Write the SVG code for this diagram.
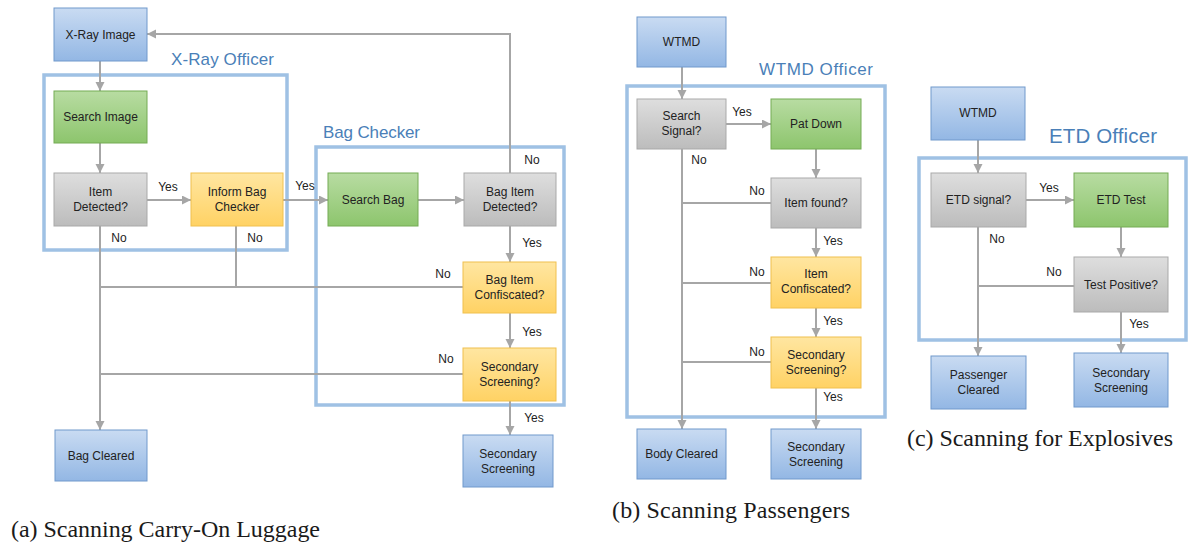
<svg xmlns="http://www.w3.org/2000/svg" width="1192" height="544" viewBox="0 0 1192 544">
  <defs>
    <linearGradient id="gBlue" x1="0" y1="0" x2="0" y2="1">
      <stop offset="0" stop-color="#c9dbf2"/>
      <stop offset="1" stop-color="#93b7e4"/>
    </linearGradient>
    <linearGradient id="gGreen" x1="0" y1="0" x2="0" y2="1">
      <stop offset="0" stop-color="#b8dca2"/>
      <stop offset="1" stop-color="#8dc56d"/>
    </linearGradient>
    <linearGradient id="gGray" x1="0" y1="0" x2="0" y2="1">
      <stop offset="0" stop-color="#dedede"/>
      <stop offset="1" stop-color="#bcbcbc"/>
    </linearGradient>
    <linearGradient id="gYellow" x1="0" y1="0" x2="0" y2="1">
      <stop offset="0" stop-color="#ffe6a1"/>
      <stop offset="1" stop-color="#ffd264"/>
    </linearGradient>
    <marker id="arrow" markerUnits="userSpaceOnUse" markerWidth="10" markerHeight="10" refX="9" refY="4.5" orient="auto">
      <path d="M0,0 L9,4.5 L0,9 z" fill="#a6a6a6"/>
    </marker>
  </defs>
  <style>
    .blue { fill: url(#gBlue); stroke: #7099cc; stroke-width: 1; }
    .green { fill: url(#gGreen); stroke: #74ab54; stroke-width: 1; }
    .gray { fill: url(#gGray); stroke: #a9a9a9; stroke-width: 1; }
    .yellow { fill: url(#gYellow); stroke: #f0c04e; stroke-width: 1; }
    .frame { fill: none; stroke: #9fc1e4; stroke-width: 3.5; }
    .title { font-family: "Liberation Sans", Arial, sans-serif; font-size: 17px; fill: #4a7fb8; }
    .lbl { font-family: "Liberation Sans", Arial, sans-serif; font-size: 12px; fill: #222222; text-anchor: middle; }
    .edge { font-family: "Liberation Sans", Arial, sans-serif; font-size: 12px; fill: #222222; text-anchor: middle; }
    .wire { fill: none; stroke: #a6a6a6; stroke-width: 2; }
    .arr { marker-end: url(#arrow); }
    .cap { font-family: "Liberation Serif", "Times New Roman", serif; font-size: 24px; fill: #1a1a1a; }
  </style>

  <rect width="1192" height="544" fill="#ffffff"/>

  <!-- role frames -->
  <g id="frames">
    <rect class="frame" x="44" y="75" width="243" height="175"/>
    <text class="title" x="171" y="65" textLength="103">X-Ray Officer</text>
    <rect class="frame" x="316" y="147" width="248" height="258"/>
    <text class="title" x="323" y="138" textLength="97">Bag Checker</text>
    <rect class="frame" x="627" y="86" width="258" height="331"/>
    <text class="title" x="759" y="75" textLength="114">WTMD Officer</text>
    <rect class="frame" x="919" y="158" width="267" height="182"/>
    <text class="title" x="1049" y="143" style="font-size:20.5px" textLength="108">ETD Officer</text>
  </g>

  <!-- connectors -->
  <g id="connectors">
    <!-- (a) carry-on luggage -->
    <path class="wire arr" d="M100,61 V91"/>
    <path class="wire arr" d="M100,143 V173"/>
    <path class="wire arr" d="M147,200 H191"/>
    <path class="wire arr" d="M283,200 H328"/>
    <path class="wire arr" d="M418,200 H464"/>
    <path class="wire arr" d="M510,173 V34 H147"/>
    <path class="wire arr" d="M510,226 V262"/>
    <path class="wire arr" d="M510,313 V348"/>
    <path class="wire arr" d="M510,401 V435"/>
    <path class="wire" d="M463,287 H100"/>
    <path class="wire" d="M463,374 H100"/>
    <path class="wire" d="M236,226 V287"/>
    <path class="wire arr" d="M100,226 V430"/>
    <text class="edge" x="168" y="191">Yes</text>
    <text class="edge" x="305" y="190">Yes</text>
    <text class="edge" x="532" y="164">No</text>
    <text class="edge" x="532" y="247">Yes</text>
    <text class="edge" x="532" y="336">Yes</text>
    <text class="edge" x="534" y="422">Yes</text>
    <text class="edge" x="443" y="278">No</text>
    <text class="edge" x="446" y="363">No</text>
    <text class="edge" x="119" y="242">No</text>
    <text class="edge" x="255" y="242">No</text>

    <!-- (b) passengers -->
    <path class="wire arr" d="M682,67 V99"/>
    <path class="wire arr" d="M726,124 H771"/>
    <path class="wire arr" d="M816,149 V178"/>
    <path class="wire arr" d="M816,228 V257"/>
    <path class="wire arr" d="M816,308 V337"/>
    <path class="wire arr" d="M816,388 V429"/>
    <path class="wire" d="M771,203 H682"/>
    <path class="wire" d="M771,283 H682"/>
    <path class="wire" d="M771,362 H682"/>
    <path class="wire arr" d="M682,149 V429"/>
    <text class="edge" x="742" y="116">Yes</text>
    <text class="edge" x="699" y="164">No</text>
    <text class="edge" x="757" y="195">No</text>
    <text class="edge" x="833" y="245">Yes</text>
    <text class="edge" x="757" y="276">No</text>
    <text class="edge" x="833" y="325">Yes</text>
    <text class="edge" x="757" y="356">No</text>
    <text class="edge" x="833" y="401">Yes</text>

    <!-- (c) explosives -->
    <path class="wire arr" d="M978,140 V173"/>
    <path class="wire arr" d="M1026,200 H1074"/>
    <path class="wire arr" d="M1121,227 V257"/>
    <path class="wire" d="M1074,286 H978"/>
    <path class="wire arr" d="M1121,312 V353"/>
    <path class="wire arr" d="M978,227 V356"/>
    <text class="edge" x="1049" y="192">Yes</text>
    <text class="edge" x="997" y="243">No</text>
    <text class="edge" x="1054" y="276">No</text>
    <text class="edge" x="1139" y="328">Yes</text>
  </g>

  <!-- (a) nodes -->
  <g id="xray-image">
    <rect class="blue" x="54" y="8" width="93" height="53"/>
    <text class="lbl" x="100.5" y="38.5">X-Ray Image</text>
  </g>
  <g id="search-image">
    <rect class="green" x="54" y="91" width="93" height="52"/>
    <text class="lbl" x="100.5" y="121">Search Image</text>
  </g>
  <g id="item-detected">
    <rect class="gray" x="54" y="173" width="93" height="53"/>
    <text class="lbl" x="100.5" y="196">Item</text>
    <text class="lbl" x="100.5" y="211">Detected?</text>
  </g>
  <g id="inform-bag-checker">
    <rect class="yellow" x="191" y="173" width="92" height="53"/>
    <text class="lbl" x="237" y="196">Inform Bag</text>
    <text class="lbl" x="237" y="211">Checker</text>
  </g>
  <g id="search-bag">
    <rect class="green" x="328" y="173" width="90" height="53"/>
    <text class="lbl" x="373" y="203.5">Search Bag</text>
  </g>
  <g id="bag-item-detected">
    <rect class="gray" x="464" y="173" width="92" height="53"/>
    <text class="lbl" x="510" y="196">Bag Item</text>
    <text class="lbl" x="510" y="211">Detected?</text>
  </g>
  <g id="bag-item-confiscated">
    <rect class="yellow" x="463" y="262" width="93" height="51"/>
    <text class="lbl" x="509.5" y="284">Bag Item</text>
    <text class="lbl" x="509.5" y="299">Confiscated?</text>
  </g>
  <g id="bag-secondary-q">
    <rect class="yellow" x="463" y="348" width="93" height="53"/>
    <text class="lbl" x="509.5" y="371">Secondary</text>
    <text class="lbl" x="509.5" y="386">Screening?</text>
  </g>
  <g id="bag-secondary">
    <rect class="blue" x="463" y="435" width="90" height="52"/>
    <text class="lbl" x="508" y="458">Secondary</text>
    <text class="lbl" x="508" y="473">Screening</text>
  </g>
  <g id="bag-cleared">
    <rect class="blue" x="55" y="430" width="92" height="51"/>
    <text class="lbl" x="101" y="459.5">Bag Cleared</text>
  </g>

  <!-- (b) nodes -->
  <g id="wtmd-b">
    <rect class="blue" x="637" y="17" width="89" height="50"/>
    <text class="lbl" x="681.5" y="46">WTMD</text>
  </g>
  <g id="search-signal">
    <rect class="gray" x="637" y="99" width="89" height="50"/>
    <text class="lbl" x="681.5" y="120">Search</text>
    <text class="lbl" x="681.5" y="135">Signal?</text>
  </g>
  <g id="pat-down">
    <rect class="green" x="771" y="99" width="90" height="50"/>
    <text class="lbl" x="816" y="128">Pat Down</text>
  </g>
  <g id="item-found">
    <rect class="gray" x="771" y="178" width="90" height="50"/>
    <text class="lbl" x="816" y="207">Item found?</text>
  </g>
  <g id="item-confiscated">
    <rect class="yellow" x="771" y="257" width="90" height="51"/>
    <text class="lbl" x="816" y="278">Item</text>
    <text class="lbl" x="816" y="293">Confiscated?</text>
  </g>
  <g id="passenger-secondary-q">
    <rect class="yellow" x="771" y="337" width="90" height="51"/>
    <text class="lbl" x="816" y="359">Secondary</text>
    <text class="lbl" x="816" y="374">Screening?</text>
  </g>
  <g id="body-cleared">
    <rect class="blue" x="637" y="429" width="89" height="50"/>
    <text class="lbl" x="681.5" y="458">Body Cleared</text>
  </g>
  <g id="passenger-secondary">
    <rect class="blue" x="771" y="429" width="90" height="50"/>
    <text class="lbl" x="816" y="451">Secondary</text>
    <text class="lbl" x="816" y="466">Screening</text>
  </g>

  <!-- (c) nodes -->
  <g id="wtmd-c">
    <rect class="blue" x="931" y="87" width="94" height="53"/>
    <text class="lbl" x="978" y="117">WTMD</text>
  </g>
  <g id="etd-signal">
    <rect class="gray" x="931" y="173" width="95" height="54"/>
    <text class="lbl" x="978.5" y="204">ETD signal?</text>
  </g>
  <g id="etd-test">
    <rect class="green" x="1074" y="173" width="94" height="54"/>
    <text class="lbl" x="1121" y="204">ETD Test</text>
  </g>
  <g id="test-positive">
    <rect class="gray" x="1074" y="257" width="94" height="55"/>
    <text class="lbl" x="1121" y="289">Test Positive?</text>
  </g>
  <g id="passenger-cleared">
    <rect class="blue" x="931" y="356" width="95" height="53"/>
    <text class="lbl" x="978.5" y="379">Passenger</text>
    <text class="lbl" x="978.5" y="394">Cleared</text>
  </g>
  <g id="etd-secondary">
    <rect class="blue" x="1074" y="353" width="94" height="54"/>
    <text class="lbl" x="1121" y="377">Secondary</text>
    <text class="lbl" x="1121" y="392">Screening</text>
  </g>

  <!-- captions -->
  <g id="captions">
    <text class="cap" x="11" y="537" textLength="309">(a) Scanning Carry-On Luggage</text>
    <text class="cap" x="612" y="518" textLength="238">(b) Scanning Passengers</text>
    <text class="cap" x="907" y="446" textLength="266">(c) Scanning for Explosives</text>
  </g>
</svg>
